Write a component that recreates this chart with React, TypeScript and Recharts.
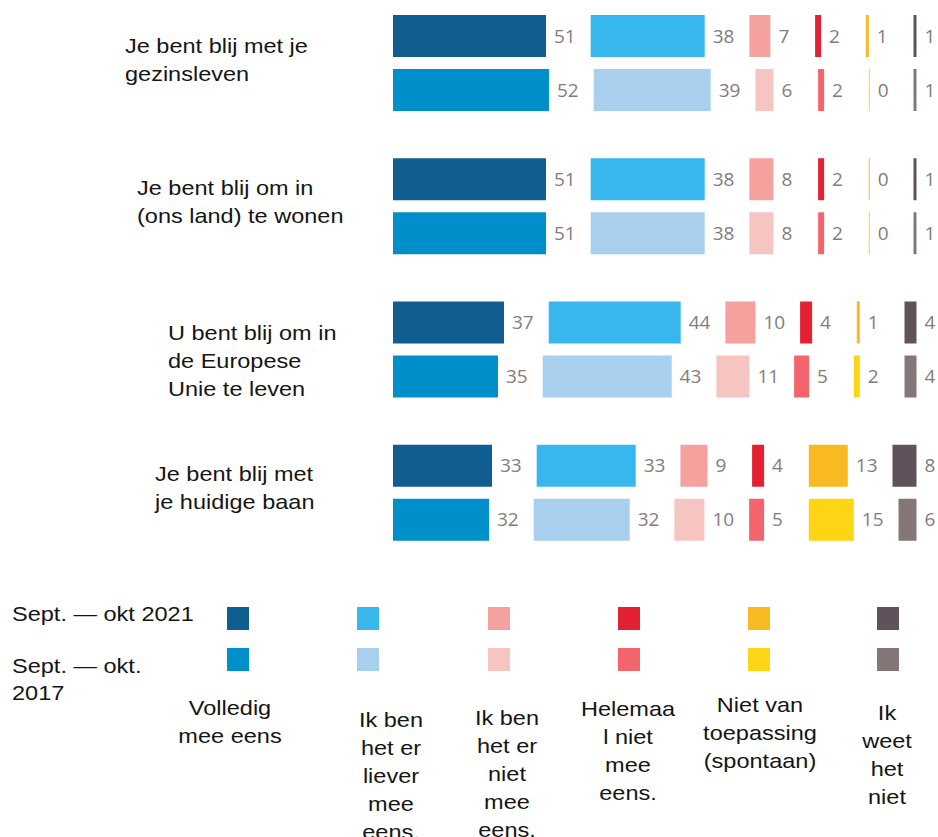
import { BarChart, Bar, XAxis, YAxis, LabelList } from 'recharts';

// survey answers, one row per statement, in the order of the answer categories
const QUESTION_LINES = [
  ['Je bent blij met je', 'gezinsleven'],
  ['Je bent blij om in', '(ons land) te wonen'],
  ['U bent blij om in', 'de Europese', 'Unie te leven'],
  ['Je bent blij met', 'je huidige baan'],
];

const CATEGORY_LINES = [
  ['Volledig', 'mee eens'],
  ['Ik ben', 'het er', 'liever', 'mee', 'eens.'],
  ['Ik ben', 'het er', 'niet', 'mee', 'eens.'],
  ['Helemaa', 'l niet', 'mee', 'eens.'],
  ['Niet van', 'toepassing', '(spontaan)'],
  ['Ik', 'weet', 'het', 'niet'],
];

const VALUES_2021 = [
  [51, 38, 7, 2, 1, 1],
  [51, 38, 8, 2, 0, 1],
  [37, 44, 10, 4, 1, 4],
  [33, 33, 9, 4, 13, 8],
];

const VALUES_2017 = [
  [52, 39, 6, 2, 0, 1],
  [51, 38, 8, 2, 0, 1],
  [35, 43, 11, 5, 2, 4],
  [32, 32, 10, 5, 15, 6],
];

const COLORS_2021 = ['#0f5e8f', '#38b6ee', '#f5a29f', '#e42132', '#f9b922', '#5f525a'];
const COLORS_2017 = ['#008fcb', '#a8d0ee', '#f6c4c1', '#f4646d', '#fdd514', '#857677'];

// empty space between segments, in value units (3px per unit)
const GAP = 14.9;

const FONT = '"Liberation Sans", Arial, sans-serif';
const STRETCH = 1.12;

// left edge of each statement and offset of its first line from the band centre
const LABEL_X = [125, 137, 168, 155];
const LABEL_DY = [-16.5, -18, -16, -18.5];

const LEGEND_CENTERS = [230, 391, 507, 628, 760, 887];
const LEGEND_TOPS = [708, 720, 718, 709, 705, 713];
const SWATCH_LEFT = [227, 357, 488, 618, 748, 877];

const rows = QUESTION_LINES.map((_, i) => {
  const row: Record<string, number | string> = { id: String(i) };
  VALUES_2021[i].forEach((v, j) => (row[`a${j}`] = v));
  VALUES_2017[i].forEach((v, j) => (row[`b${j}`] = v));
  for (let j = 0; j < 5; j++) {
    row[`ga${j}`] = GAP;
    row[`gb${j}`] = GAP;
  }
  return row;
});

function QuestionTick(props: any) {
  const { y, payload } = props;
  const i = Number(payload.value);
  const lines = QUESTION_LINES[i];
  const first = y + LABEL_DY[i];
  return (
    <g>
      {lines.map((t, k) => (
        <text
          key={k}
          transform={`translate(${LABEL_X[i]},${first + k * 28 + 7}) scale(${STRETCH},1)`}
          fontFamily={FONT}
          fontSize={21}
          fill="#151515"
        >
          {t}
        </text>
      ))}
    </g>
  );
}

function Line({ text, cx, left, cy }: { text: string; cx?: number; left?: number; cy: number }) {
  const centered = cx !== undefined;
  return (
    <div
      style={{
        position: 'absolute',
        left: centered ? cx : left,
        top: cy - 14,
        lineHeight: '28px',
        fontSize: 21,
        fontFamily: FONT,
        color: '#151515',
        whiteSpace: 'nowrap',
        transform: centered ? `translateX(-50%) scaleX(${STRETCH})` : `scaleX(${STRETCH})`,
        transformOrigin: centered ? 'center' : 'left',
      }}
    >
      {text}
    </div>
  );
}

export default function App() {
  const series = [
    { key: 'a', stack: 's21', colors: COLORS_2021 },
    { key: 'b', stack: 's17', colors: COLORS_2017 },
  ];

  return (
    <div
      style={{
        position: 'absolute',
        left: 0,
        top: 0,
        width: 938,
        height: 837,
        overflow: 'hidden',
        background: '#fff',
      }}
    >
      <div style={{ position: 'absolute', left: 0, top: -9 }}>
        <BarChart
          layout="vertical"
          width={938}
          height={573}
          data={rows}
          margin={{ top: 0, right: 5, bottom: 0, left: 0 }}
          barSize={42}
          barGap={12}
        >
          <XAxis type="number" hide domain={[0, 180]} />
          <YAxis
            type="category"
            dataKey="id"
            width={393}
            axisLine={false}
            tickLine={false}
            interval={0}
            tick={(p: any) => <QuestionTick {...p} />}
          />
          {series.map((s) =>
            s.colors.map((c, j) => [
              <Bar
                key={`${s.key}${j}`}
                dataKey={`${s.key}${j}`}
                stackId={s.stack}
                fill={c}
                minPointSize={1}
                isAnimationActive={false}
              >
                <LabelList
                  dataKey={`${s.key}${j}`}
                  position="right"
                  offset={8}
                  fill="#857b7c"
                  fontSize={19}
                  fontFamily='"Open Sans", sans-serif'
                />
              </Bar>,
              j < 5 ? (
                <Bar
                  key={`g${s.key}${j}`}
                  dataKey={`g${s.key}${j}`}
                  stackId={s.stack}
                  fill="transparent"
                  isAnimationActive={false}
                />
              ) : null,
            ])
          )}
        </BarChart>
      </div>

      <Line text="Sept. — okt 2021" left={12} cy={614} />
      <Line text="Sept. — okt." left={12} cy={666} />
      <Line text="2017" left={12} cy={693} />

      {SWATCH_LEFT.map((x, j) => (
        <div key={j}>
          <div style={{ position: 'absolute', left: x, top: 607, width: 22, height: 23, background: COLORS_2021[j] }} />
          <div style={{ position: 'absolute', left: x, top: 648, width: 22, height: 23, background: COLORS_2017[j] }} />
        </div>
      ))}

      {CATEGORY_LINES.map((lines, j) =>
        lines.map((t, k) => (
          <Line key={`${j}-${k}`} text={t} cx={LEGEND_CENTERS[j]} cy={LEGEND_TOPS[j] + k * 28} />
        ))
      )}
    </div>
  );
}
